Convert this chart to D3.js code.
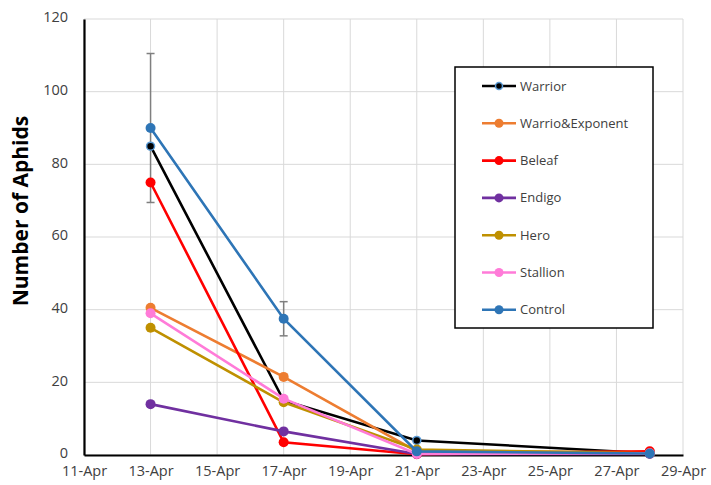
<!DOCTYPE html>
<html>
<head>
<meta charset="utf-8">
<script src="https://cdn.jsdelivr.net/npm/d3@7"></script>
<style>
  body { margin: 0; background: #fff; }
  svg text { font-family: "Open Sans", "Liberation Sans", Arial, sans-serif; }
</style>
</head>
<body>
<div id="chart"></div>
<script>
// sample dates and counts per treatment
const dates = ['2021-04-13', '2021-04-17', '2021-04-21', '2021-04-28'];
const xTicks = ['2021-04-11', '2021-04-13', '2021-04-15', '2021-04-17', '2021-04-19',
                '2021-04-21', '2021-04-23', '2021-04-25', '2021-04-27', '2021-04-29'];
const yTicks = [0, 20, 40, 60, 80, 100, 120];

const names = ['Warrior', 'Warrio&Exponent', 'Beleaf', 'Endigo', 'Hero', 'Stallion', 'Control'];
const warrior  = [85, 15, 4, 0.5];
const warrExp  = [40.5, 21.5, 1, 0.8];
const beleaf   = [75, 3.5, 0.2, 1];
const endigo   = [14, 6.5, 0.3, 0.3];
const hero     = [35, 14.5, 1.5, 0.5];
const stallion = [39, 15.5, 0.3, 0.5];
const control  = [90, 37.5, 1, 0.4];
const controlErr = [20.5, 4.7, 0, 0];

const colors = ['#000000', '#ED7D31', '#FF0000', '#7030A0', '#BF9000', '#FF7BD8', '#2E75B6'];
const seriesVals = [warrior, warrExp, beleaf, endigo, hero, stallion, control];

(function(){
  const width = 711, height = 485;
  const margin = { top: 19, right: 28, bottom: 30, left: 84 };
  const parse = d3.timeParse('%Y-%m-%d');
  const fmt = d3.timeFormat('%-d-%b');

  const svg = d3.select('#chart').append('svg')
    .attr('width', width).attr('height', height);

  const x = d3.scaleTime()
    .domain([parse(xTicks[0]), parse(xTicks[xTicks.length - 1])])
    .range([margin.left, width - margin.right]);
  const y = d3.scaleLinear()
    .domain([0, 120])
    .range([height - margin.bottom, margin.top]);

  // grid
  const grid = svg.append('g').attr('stroke', '#d9d9d9').attr('stroke-width', 1);
  grid.selectAll('.gy').data(yTicks).enter().append('line')
    .attr('x1', margin.left).attr('x2', width - margin.right)
    .attr('y1', d => y(d)).attr('y2', d => y(d));
  grid.selectAll('.gx').data(xTicks).enter().append('line')
    .attr('x1', d => x(parse(d))).attr('x2', d => x(parse(d)))
    .attr('y1', margin.top).attr('y2', height - margin.bottom);

  // axes
  const yAxis = svg.append('g')
    .attr('transform', `translate(${margin.left},0)`)
    .call(d3.axisLeft(y).tickValues(yTicks).tickSize(0).tickPadding(16));
  const xAxis = svg.append('g')
    .attr('transform', `translate(0,${height - margin.bottom})`)
    .call(d3.axisBottom(x).tickValues(xTicks.map(parse)).tickFormat(fmt).tickSize(0).tickPadding(11));
  [yAxis, xAxis].forEach(a => {
    a.select('.domain').attr('stroke', '#000').attr('stroke-width', 2.2);
    a.selectAll('text').attr('fill', '#404040').style('font-size', '14.5px');
  });
  yAxis.selectAll('text').attr('dy', '0.2em');

  svg.append('text')
    .attr('transform', 'translate(21,211) rotate(-90)')
    .attr('text-anchor', 'middle')
    .attr('dy', '0.35em')
    .style('font-size', '21px').style('font-weight', 'bold')
    .attr('fill', '#000')
    .text('Number of Aphids');

  const series = names.map((n, i) => ({
    name: n, color: colors[i],
    pts: dates.map((d, j) => ({ date: parse(d), v: seriesVals[i][j] }))
  }));

  // error bars (Control)
  const eb = svg.append('g').attr('stroke', '#7f7f7f').attr('stroke-width', 1.5);
  dates.forEach((d, j) => {
    const e = controlErr[j];
    if (!e) return;
    const cx = x(parse(d)), v = control[j];
    eb.append('line').attr('x1', cx).attr('x2', cx).attr('y1', y(v - e)).attr('y2', y(v + e));
    eb.append('line').attr('x1', cx - 4).attr('x2', cx + 4).attr('y1', y(v - e)).attr('y2', y(v - e));
    eb.append('line').attr('x1', cx - 4).attr('x2', cx + 4).attr('y1', y(v + e)).attr('y2', y(v + e));
  });

  const line = d3.line().x(d => x(d.date)).y(d => y(d.v));

  const g = svg.append('g').selectAll('g').data(series).enter().append('g');
  g.append('path')
    .attr('d', d => line(d.pts))
    .attr('fill', 'none')
    .attr('stroke', d => d.color)
    .attr('stroke-width', 2.6);
  g.selectAll('circle').data(d => d.pts.map(p => Object.assign({ s: d }, p))).enter().append('circle')
    .attr('cx', d => x(d.date)).attr('cy', d => y(d.v))
    .attr('r', d => d.s.name === 'Warrior' ? 4 : 5)
    .attr('fill', d => d.s.color)
    .attr('stroke', d => d.s.name === 'Warrior' ? '#5b9bd5' : 'none')
    .attr('stroke-width', 1.5);

  // legend
  const lg = svg.append('g');
  lg.append('rect')
    .attr('x', 455).attr('y', 67).attr('width', 198).attr('height', 261)
    .attr('fill', '#fff').attr('stroke', '#000').attr('stroke-width', 1.5);
  const item = lg.selectAll('.item').data(series).enter().append('g')
    .attr('transform', (d, i) => `translate(0,${86 + i * 37.3})`);
  item.append('line')
    .attr('x1', 482).attr('x2', 516).attr('y1', 0).attr('y2', 0)
    .attr('stroke', d => d.color).attr('stroke-width', 2.6);
  item.append('circle')
    .attr('cx', 499).attr('cy', 0)
    .attr('r', d => d.name === 'Warrior' ? 3.5 : 4.5)
    .attr('fill', d => d.color)
    .attr('stroke', d => d.name === 'Warrior' ? '#5b9bd5' : 'none')
    .attr('stroke-width', 1.5);
  item.append('text')
    .attr('x', 520).attr('y', 0).attr('dy', '0.35em')
    .attr('fill', '#404040')
    .style('font-size', '13px')
    .text(d => d.name);
})();
</script>
</body>
</html>
